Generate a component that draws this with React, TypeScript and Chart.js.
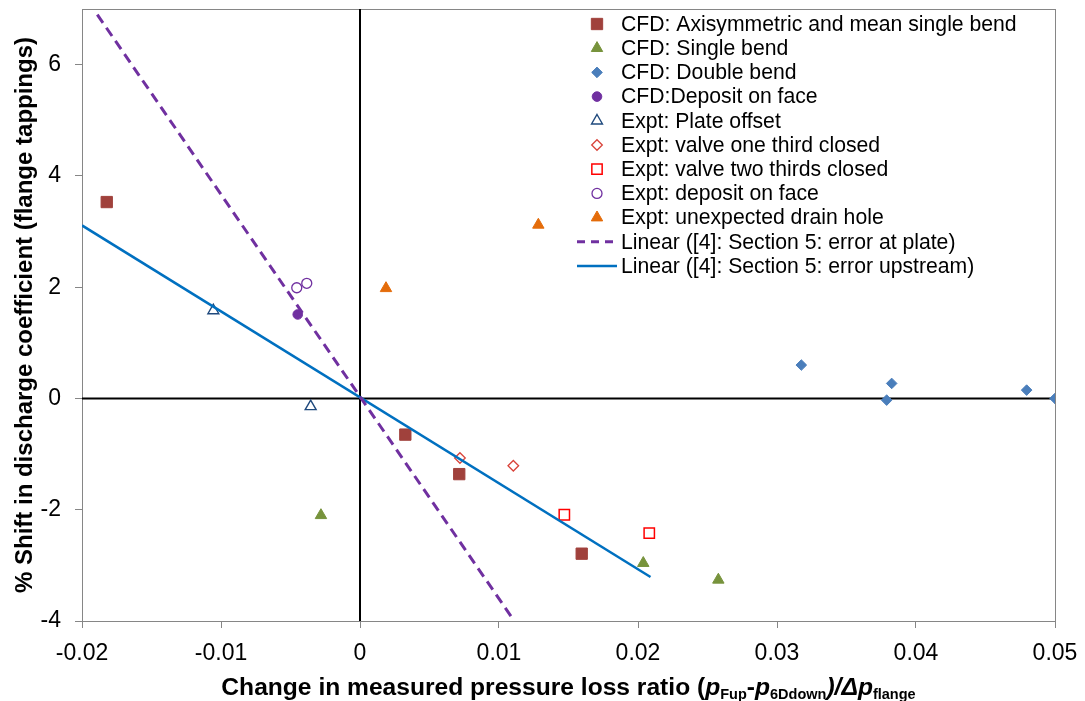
import React, { useEffect, useRef } from "react";
import { Chart, registerables } from "chart.js";

Chart.register(...registerables);

// ---- axis ticks ----
const xTicks = [-0.02, -0.01, 0, 0.01, 0.02, 0.03, 0.04, 0.05];
const xTickLabels = ["-0.02", "-0.01", "0", "0.01", "0.02", "0.03", "0.04", "0.05"];
const yTicks = [-4, -2, 0, 2, 4, 6];
const yTickLabels = ["-4", "-2", "0", "2", "4", "6"];

// ---- series data ----
const cfdAxiX = [-0.01822, 0.00326, 0.00714, 0.01595];
const cfdAxiY = [3.53, -0.65, -1.36, -2.79];

const cfdSingleX = [-0.00281, 0.02038, 0.02578];
const cfdSingleY = [-2.1, -2.96, -3.26];

const cfdDoubleX = [0.03175, 0.03825, 0.03789, 0.04796, 0.05];
const cfdDoubleY = [0.6, 0.27, -0.03, 0.15, 0.0];

const cfdDepositX = [-0.00448];
const cfdDepositY = [1.51];

const exptPlateX = [-0.01055, -0.00355];
const exptPlateY = [1.58, -0.145];

const exptOneThirdX = [0.00719, 0.01103];
const exptOneThirdY = [-1.07, -1.21];

const exptTwoThirdsX = [0.0147, 0.02081];
const exptTwoThirdsY = [-2.09, -2.42];

const exptDepositX = [-0.00455, -0.00383];
const exptDepositY = [1.99, 2.07];

const exptDrainX = [0.00187, 0.01283];
const exptDrainY = [1.98, 3.12];

const linPlateX = [-0.0189, 0.0111];
const linPlateY = [6.9, -4.0];

const linUpX = [-0.02, 0.0209];
const linUpY = [3.11, -3.21];

const seriesLabels = [
  "CFD: Axisymmetric and mean single bend",
  "CFD: Single bend",
  "CFD: Double bend",
  "CFD:Deposit on face",
  "Expt: Plate offset",
  "Expt: valve one third closed",
  "Expt: valve two thirds closed",
  "Expt: deposit on face",
  "Expt: unexpected drain hole",
  "Linear ([4]: Section 5: error at plate)",
  "Linear ([4]: Section 5: error upstream)",
];

const FONT = "'Liberation Sans', Arial, sans-serif";

type Style = {
  kind: "point" | "line";
  shape?: "rect" | "triangle" | "rectRot" | "circle";
  r?: number;
  fill?: string;
  stroke: string;
  bw: number;
  dash?: number[];
};

const styles: Style[] = [
  { kind: "point", shape: "rect", r: 8, fill: "#A0413C", stroke: "#A0413C", bw: 1 },
  { kind: "point", shape: "triangle", r: 6.6, fill: "#77933C", stroke: "#77933C", bw: 1 },
  { kind: "point", shape: "rectRot", r: 5.3, fill: "#4A7EBB", stroke: "#4A7EBB", bw: 1 },
  { kind: "point", shape: "circle", r: 4.8, fill: "#7030A0", stroke: "#7030A0", bw: 1 },
  { kind: "point", shape: "triangle", r: 6.3, fill: "rgba(0,0,0,0)", stroke: "#1F497D", bw: 1.4 },
  { kind: "point", shape: "rectRot", r: 5.3, fill: "rgba(0,0,0,0)", stroke: "#D9433A", bw: 1.3 },
  { kind: "point", shape: "rect", r: 7.3, fill: "rgba(0,0,0,0)", stroke: "#FF0000", bw: 1.5 },
  { kind: "point", shape: "circle", r: 5, fill: "rgba(0,0,0,0)", stroke: "#7030A0", bw: 1.3 },
  { kind: "point", shape: "triangle", r: 6.6, fill: "#E46C0A", stroke: "#E46C0A", bw: 1 },
  { kind: "line", stroke: "#7030A0", bw: 3, dash: [10, 6] },
  { kind: "line", stroke: "#0070C0", bw: 2.5 },
];

const seriesXs = [
  cfdAxiX, cfdSingleX, cfdDoubleX, cfdDepositX, exptPlateX,
  exptOneThirdX, exptTwoThirdsX, exptDepositX, exptDrainX, linPlateX, linUpX,
];
const seriesYs = [
  cfdAxiY, cfdSingleY, cfdDoubleY, cfdDepositY, exptPlateY,
  exptOneThirdY, exptTwoThirdsY, exptDepositY, exptDrainY, linPlateY, linUpY,
];

function drawMarker(ctx: CanvasRenderingContext2D, s: Style, x: number, y: number) {
  const r = s.r || 5;
  ctx.save();
  ctx.beginPath();
  if (s.shape === "rect") {
    const h = r * Math.SQRT1_2;
    ctx.rect(x - h, y - h, 2 * h, 2 * h);
  } else if (s.shape === "triangle") {
    ctx.moveTo(x, y - r);
    ctx.lineTo(x + r * 0.866, y + r * 0.5);
    ctx.lineTo(x - r * 0.866, y + r * 0.5);
    ctx.closePath();
  } else if (s.shape === "rectRot") {
    ctx.moveTo(x - r, y);
    ctx.lineTo(x, y - r);
    ctx.lineTo(x + r, y);
    ctx.lineTo(x, y + r);
    ctx.closePath();
  } else {
    ctx.arc(x, y, r, 0, Math.PI * 2);
  }
  ctx.fillStyle = s.fill || "transparent";
  ctx.fill();
  ctx.lineWidth = s.bw;
  ctx.strokeStyle = s.stroke;
  ctx.stroke();
  ctx.restore();
}

const decorPlugin = {
  id: "decor",
  beforeDatasetsDraw(chart: any) {
    const { ctx, chartArea: a, scales } = chart;
    ctx.save();
    // plot frame
    ctx.strokeStyle = "#868686";
    ctx.lineWidth = 1;
    ctx.strokeRect(Math.round(a.left) + 0.5, Math.round(a.top) + 0.5, Math.round(a.right - a.left), Math.round(a.bottom - a.top));
    // zero lines
    const x0 = scales.x.getPixelForValue(0);
    const y0 = scales.y.getPixelForValue(0);
    ctx.strokeStyle = "#000";
    ctx.lineWidth = 2;
    ctx.beginPath();
    ctx.moveTo(x0, a.top);
    ctx.lineTo(x0, a.bottom);
    ctx.moveTo(a.left, y0);
    ctx.lineTo(a.right, y0);
    ctx.stroke();
    ctx.restore();
  },
  afterDraw(chart: any) {
    const { ctx, chartArea: a } = chart;
    ctx.save();
    // ---- legend ----
    const lx = 597;
    const tx = 621;
    const ly0 = 24;
    const step = 24.2;
    ctx.font = `21.2px ${FONT}`;
    ctx.textBaseline = "middle";
    ctx.textAlign = "left";
    seriesLabels.forEach((lab, i) => {
      const y = ly0 + i * step;
      const s = styles[i];
      if (s.kind === "point") {
        drawMarker(ctx, s, lx, y);
      } else {
        ctx.save();
        ctx.strokeStyle = s.stroke;
        ctx.lineWidth = s.bw;
        ctx.setLineDash(s.dash ? [8, 6] : []);
        ctx.beginPath();
        ctx.moveTo(577, y);
        ctx.lineTo(617, y);
        ctx.stroke();
        ctx.restore();
      }
      ctx.fillStyle = "#000";
      ctx.fillText(lab, tx, y + 1);
    });

    // ---- y title ----
    ctx.save();
    ctx.translate(25, (a.top + a.bottom) / 2);
    ctx.rotate(-Math.PI / 2);
    ctx.font = `bold 24px ${FONT}`;
    ctx.textAlign = "center";
    ctx.textBaseline = "middle";
    ctx.fillStyle = "#000";
    ctx.fillText("% Shift in discharge coefficient (flange tappings)", 0, 0);
    ctx.restore();

    // ---- x title with subscripts ----
    const parts: { t: string; f: string; dy: number }[] = [
      { t: "Change in measured pressure loss ratio (", f: `bold 24.6px ${FONT}`, dy: 0 },
      { t: "p", f: `italic bold 24.6px ${FONT}`, dy: 0 },
      { t: "Fup", f: `bold 14.5px ${FONT}`, dy: 4 },
      { t: "-", f: `bold 24.6px ${FONT}`, dy: 0 },
      { t: "p", f: `italic bold 24.6px ${FONT}`, dy: 0 },
      { t: "6Ddown", f: `bold 14.5px ${FONT}`, dy: 4 },
      { t: ")/Δ", f: `italic bold 24.6px ${FONT}`, dy: 0 },
      { t: "p", f: `italic bold 24.6px ${FONT}`, dy: 0 },
      { t: "flange", f: `bold 14.5px ${FONT}`, dy: 4 },
    ];
    let total = 0;
    parts.forEach((p) => {
      ctx.font = p.f;
      total += ctx.measureText(p.t).width;
    });
    let x = (a.left + a.right) / 2 - total / 2;
    const by = 695;
    ctx.textAlign = "left";
    ctx.textBaseline = "alphabetic";
    ctx.fillStyle = "#000";
    parts.forEach((p) => {
      ctx.font = p.f;
      ctx.fillText(p.t, x, by + p.dy);
      x += ctx.measureText(p.t).width;
    });
    ctx.restore();
  },
};

export default function App() {
  const ref = useRef<HTMLCanvasElement | null>(null);

  useEffect(() => {
    if (!ref.current) return;
    Chart.defaults.font.family = FONT;
    const datasets: any[] = seriesLabels.map((label, i) => {
      const s = styles[i];
      const data = seriesXs[i].map((x, j) => ({ x, y: seriesYs[i][j] }));
      if (s.kind === "line") {
        return {
          label,
          data,
          showLine: true,
          borderColor: s.stroke,
          borderWidth: s.bw,
          borderDash: s.dash || [],
          pointRadius: 0,
          fill: false,
          order: -1,
        };
      }
      return {
        label,
        data,
        pointStyle: s.shape,
        pointRadius: s.r,
        backgroundColor: s.fill,
        borderColor: s.stroke,
        borderWidth: s.bw,
        showLine: false,
        order: i,
      };
    });

    const chart = new Chart(ref.current, {
      type: "scatter",
      data: { datasets },
      options: {
        animation: false,
        responsive: false,
        events: [],
        layout: { padding: { left: 0, right: 30, top: 5, bottom: 0 } },
        plugins: { legend: { display: false }, tooltip: { enabled: false } },
        scales: {
          x: {
            type: "linear",
            min: -0.02,
            max: 0.05,
            afterBuildTicks: (s: any) => {
              s.ticks = xTicks.map((v) => ({ value: v }));
            },
            afterFit: (s: any) => {
              s.height = 80;
              s.paddingLeft = 0;
              s.paddingRight = 0;
            },
            border: { display: false },
            grid: { drawOnChartArea: false, drawTicks: true, tickLength: 7, tickColor: "#868686", lineWidth: 1 },
            ticks: {
              callback: (_v: any, i: number) => xTickLabels[i],
              font: { size: 23, family: FONT },
              color: "#000",
              padding: 12,
              maxRotation: 0,
              autoSkip: false,
            },
          },
          y: {
            type: "linear",
            min: -4,
            max: 7,
            afterBuildTicks: (s: any) => {
              s.ticks = yTicks.map((v) => ({ value: v }));
            },
            afterFit: (s: any) => {
              s.width = 82;
              s.paddingTop = 0;
              s.paddingBottom = 0;
            },
            border: { display: false },
            grid: { drawOnChartArea: false, drawTicks: true, tickLength: 7, tickColor: "#868686", lineWidth: 1 },
            ticks: {
              callback: (_v: any, i: number) => yTickLabels[i],
              font: { size: 23, family: FONT },
              color: "#000",
              padding: 14,
              autoSkip: false,
            },
          },
        },
      },
      plugins: [decorPlugin],
    } as any);
    return () => chart.destroy();
  }, []);

  return (
    <div style={{ position: "absolute", left: 0, top: 0, width: 1085, height: 701, background: "#fff" }}>
      <canvas ref={ref} width={1085} height={701} style={{ width: 1085, height: 701 }} />
    </div>
  );
}
